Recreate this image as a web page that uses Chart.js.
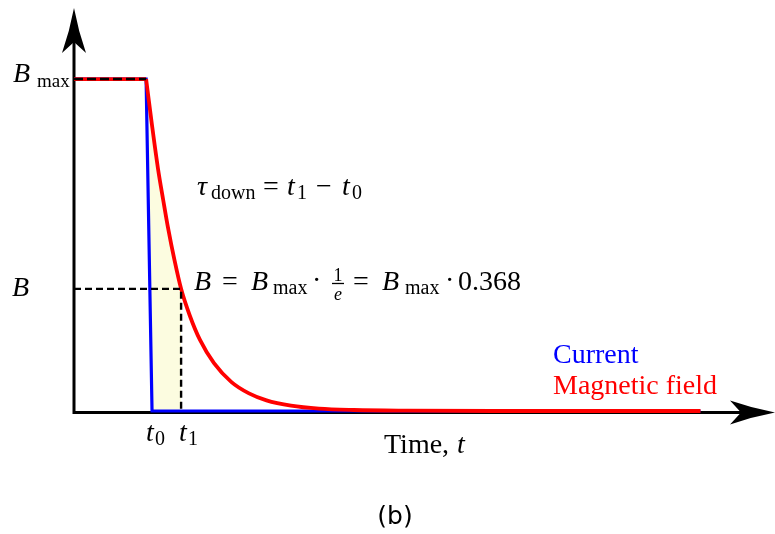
<!DOCTYPE html>
<html>
<head>
<meta charset="utf-8">
<script src="https://cdn.jsdelivr.net/npm/chart.js@4/dist/chart.umd.min.js"></script>
<style>
  html, body { margin: 0; padding: 0; background: #fff; }
  #wrap { width: 775px; height: 534px; position: relative; }
</style>
</head>
<body>
<div id="wrap"><canvas id="decayChart"></canvas></div>
<script>
  // time axis runs in units of tau (one tau = 35 px on the picture)
  const timeCurrent = [0, 2.06, 2.23, 17.9];
  const current = [1, 1, 0, 0];

  const timeFieldFlat = [0, 2.06];
  const fieldFlat = [1, 1];

  const timeFieldDecay = [2.06, 2.23, 2.40, 2.55, 2.69, 2.87, 3.06, 3.31, 3.6, 4.0, 4.5, 5.0, 5.5, 6.2, 7.0, 8.0, 9.5, 12, 17.9];
  const fieldDecay = [1.0, 0.86, 0.73, 0.635, 0.55, 0.455, 0.368, 0.287, 0.214, 0.144, 0.087, 0.053, 0.032, 0.016, 0.007, 0.003, 0.001, 0, 0];

  const bMax = 1;
  const bTau = 0.368;
  const t0 = 2.23;
  const t1 = 3.06;
  const tMax = 20.03;
  const bTop = 1.208;

  const pts = (xs, ys) => xs.map((x, i) => ({ x: x, y: ys[i] }));

  // shaded area: between the current and the field, up to t1
  const shade = pts(timeFieldDecay, fieldDecay).filter(p => p.x <= t1);
  shade.push({ x: t1, y: 0 });

  const SERIF = '"Liberation Serif", "Times New Roman", serif';
  const big = '28px ' + SERIF;
  const bigIt = 'italic 28px ' + SERIF;
  const sub = '20px ' + SERIF;
  const small = '18px ' + SERIF;
  const smallIt = 'italic 18px ' + SERIF;

  function txt(ctx, s, x, y, font, color) {
      ctx.font = font;
      ctx.fillStyle = color || '#000';
      ctx.fillText(s, x, y);
  }

  function arrow(ctx, tip, dir) {
      // stealth arrow head, dir: 'up' or 'right'
      const L = 45, W = 12, N = 34;
      const p = (a, b) => dir === 'up' ? [tip[0] + b, tip[1] + a] : [tip[0] - a, tip[1] + b];
      const P0 = p(0, 0), P1 = p(L, -W), P2 = p(N, 0), P3 = p(L, W);
      const C1 = p(L * 0.5, -W * 0.35), C2 = p(L * 0.5, W * 0.35);
      ctx.beginPath();
      ctx.moveTo(P0[0], P0[1]);
      ctx.quadraticCurveTo(C1[0], C1[1], P1[0], P1[1]);
      ctx.lineTo(P2[0], P2[1]);
      ctx.lineTo(P3[0], P3[1]);
      ctx.quadraticCurveTo(C2[0], C2[1], P0[0], P0[1]);
      ctx.closePath();
      ctx.fill();
  }

  const axesPlugin = {
      id: 'axesPlugin',
      beforeDatasetsDraw(chart) {
          const ctx = chart.ctx;
          const xs = chart.scales.x, ys = chart.scales.y;
          const x0 = xs.getPixelForValue(0), y0 = ys.getPixelForValue(0) + 1.5;
          const area = chart.chartArea;
          ctx.save();
          ctx.strokeStyle = '#000';
          ctx.fillStyle = '#000';
          ctx.lineWidth = 3;
          ctx.beginPath();
          ctx.moveTo(x0 - 1.5, y0);
          ctx.lineTo(area.right - 20, y0);
          ctx.moveTo(x0, y0 + 1.5);
          ctx.lineTo(x0, area.top + 20);
          ctx.stroke();
          arrow(ctx, [x0, area.top - 2], 'up');
          arrow(ctx, [area.right, y0], 'right');
          ctx.restore();
      },
      afterDraw(chart) {
          const ctx = chart.ctx;
          const xs = chart.scales.x, ys = chart.scales.y;
          const yMax = ys.getPixelForValue(bMax);
          const yTau = ys.getPixelForValue(bTau);
          const xT0 = xs.getPixelForValue(t0);
          const xT1 = xs.getPixelForValue(t1);
          ctx.save();
          ctx.textBaseline = 'alphabetic';
          ctx.textAlign = 'left';

          // y labels
          txt(ctx, 'B', 13, yMax + 3, bigIt);
          txt(ctx, 'max', 37, yMax + 8, '19px ' + SERIF);
          txt(ctx, 'B', 12, yTau + 7, bigIt);

          // t0, t1
          txt(ctx, 't', xT0 - 6, 441, bigIt);
          txt(ctx, '0', xT0 + 3, 445, sub);
          txt(ctx, 't', xT1 - 2, 441, bigIt);
          txt(ctx, '1', xT1 + 7, 445, sub);

          // tau_down = t1 - t0
          txt(ctx, 'τ', 197, 195, bigIt);
          txt(ctx, 'down', 211, 199, sub);
          txt(ctx, '=', 263, 195, big);
          txt(ctx, 't', 287, 195, bigIt);
          txt(ctx, '1', 297, 199, sub);
          txt(ctx, '−', 316, 195, big);
          txt(ctx, 't', 342, 195, bigIt);
          txt(ctx, '0', 352, 199, sub);

          // B = Bmax * 1/e = Bmax * 0.368
          const by = yTau + 1;
          txt(ctx, 'B', 194, by, bigIt);
          txt(ctx, '=', 222, by, big);
          txt(ctx, 'B', 251, by, bigIt);
          txt(ctx, 'max', 273, by + 4, sub);
          txt(ctx, '·', 312, by - 1, big);
          ctx.textAlign = 'center';
          txt(ctx, '1', 338, by - 9, small);
          txt(ctx, 'e', 338, by + 10, smallIt);
          ctx.fillRect(332, by - 7, 12, 1.3);
          ctx.textAlign = 'left';
          txt(ctx, '=', 353, by, big);
          txt(ctx, 'B', 382, by, bigIt);
          txt(ctx, 'max', 405, by + 4, sub);
          txt(ctx, '·', 445, by - 1, big);
          txt(ctx, '0.368', 458, by, big);

          // legend
          txt(ctx, 'Current', 553, 363, big, '#0000ff');
          txt(ctx, 'Magnetic field', 553, 394, big, '#ff0000');

          // axis title
          txt(ctx, 'Time, ', 384, 453, big);
          txt(ctx, 't', 457, 453, bigIt);

          // panel label
          ctx.textAlign = 'center';
          txt(ctx, '(b)', 395, 524, '25px "DejaVu Sans", sans-serif');
          ctx.restore();
      }
  };

  const ctx = document.getElementById('decayChart').getContext('2d');
  new Chart(ctx, {
      type: 'line',
      data: {
          datasets: [
              {
                  label: 'Bmax guide',
                  data: pts([0, timeFieldFlat[1]], [bMax, bMax]),
                  borderColor: '#000',
                  borderWidth: 2.5,
                  borderDash: [9, 4],
                  pointRadius: 0,
                  order: 0,
                  clip: false
              },
              {
                  label: 'B guide',
                  data: [{ x: 0, y: bTau }, { x: t1, y: bTau }, { x: t1, y: 0 }],
                  borderColor: '#000',
                  borderWidth: 2.4,
                  borderDash: [7, 4],
                  pointRadius: 0,
                  order: 1,
                  clip: false
              },
              {
                  label: 'Magnetic field',
                  data: pts(timeFieldFlat, fieldFlat),
                  borderColor: '#ff0000',
                  borderWidth: 3.8,
                  pointRadius: 0,
                  order: 2,
                  clip: false
              },
              {
                  label: 'Magnetic field decay',
                  data: pts(timeFieldDecay, fieldDecay),
                  borderColor: '#ff0000',
                  borderWidth: 3.8,
                  cubicInterpolationMode: 'monotone',
                  pointRadius: 0,
                  order: 2,
                  clip: false
              },
              {
                  label: 'Current',
                  data: pts(timeCurrent, current),
                  borderColor: '#0000ff',
                  borderWidth: 3.2,
                  pointRadius: 0,
                  order: 4,
                  clip: false
              },
              {
                  label: 'shade',
                  data: shade,
                  borderWidth: 0,
                  borderColor: 'rgba(0,0,0,0)',
                  backgroundColor: '#fcfce0',
                  fill: 4,
                  pointRadius: 0,
                  order: 10,
                  clip: false
              }
          ]
      },
      options: {
          responsive: true,
          maintainAspectRatio: false,
          animation: false,
          events: [],
          layout: { padding: { left: 74, right: 0, top: 10, bottom: 123 } },
          scales: {
              x: { type: 'linear', min: 0, max: tMax, display: false },
              y: { type: 'linear', min: 0, max: bTop, display: false }
          },
          plugins: {
              legend: { display: false },
              tooltip: { enabled: false }
          }
      },
      plugins: [axesPlugin]
  });
</script>
</body>
</html>
